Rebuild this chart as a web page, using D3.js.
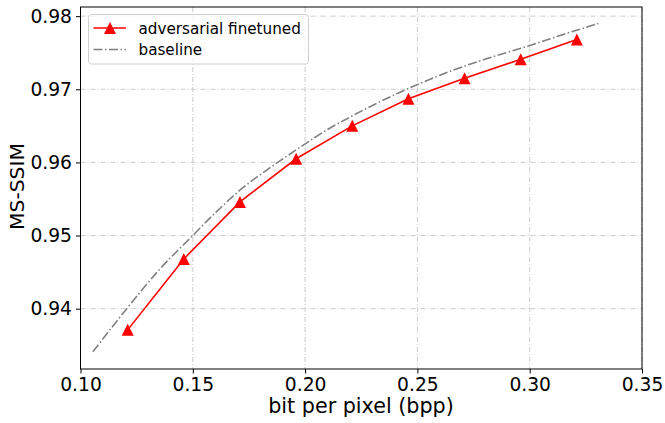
<!DOCTYPE html>
<html><head><meta charset="utf-8">
<script src="https://cdn.jsdelivr.net/npm/d3@7"></script>
<style>html,body{margin:0;padding:0;background:#fff;}svg{display:block;font-family:"DejaVu Sans",sans-serif;}</style>
</head><body>
<svg id="c" width="665" height="423"></svg>
<script>
const advX = [0.121, 0.146, 0.171, 0.196, 0.221, 0.246, 0.271, 0.296, 0.321];
const advY = [0.9371, 0.9468, 0.9546, 0.9605, 0.9650, 0.9687, 0.9715, 0.9741, 0.9768];
const baseX = [0.1055, 0.1206, 0.135, 0.1503, 0.160, 0.1718, 0.185, 0.1955, 0.210, 0.220, 0.2423, 0.2504, 0.265, 0.280, 0.3002, 0.315, 0.3306];
const baseY = [0.9341, 0.9400, 0.9453, 0.9501, 0.9531, 0.9564, 0.9594, 0.9616, 0.9645, 0.9662, 0.9696, 0.9707, 0.9725, 0.9741, 0.9760, 0.9775, 0.9790];
const xTicks = [0.10, 0.15, 0.20, 0.25, 0.30, 0.35];
const yTicks = [0.94, 0.95, 0.96, 0.97, 0.98];
const seriesNames = ["adversarial finetuned", "baseline"];
const xLabel = "bit per pixel (bpp)";
const yLabel = "MS-SSIM";

const svg = d3.select("#c");
const L = 80.5, R = 642, T = 7, B = 369;
const x = d3.scaleLinear().domain([0.10, 0.35]).range([L, R]);
const y = d3.scaleLinear().domain([0.93175, 0.98125]).range([B, T]);

// grid
const grid = svg.append("g").attr("stroke", "#cccccc").attr("stroke-width", 1).attr("stroke-dasharray", "5,2,1,2");
xTicks.forEach(t => grid.append("line").attr("x1", x(t)).attr("x2", x(t)).attr("y1", T).attr("y2", B));
yTicks.forEach(t => grid.append("line").attr("y1", y(t)).attr("y2", y(t)).attr("x1", L).attr("x2", R));

// baseline
const base = baseX.map((v, i) => [v, baseY[i]]);
svg.append("path").datum(base)
  .attr("d", d3.line().x(d => x(d[0])).y(d => y(d[1])).curve(d3.curveMonotoneX))
  .attr("fill", "none").attr("stroke", "#808080").attr("stroke-width", 1.6)
  .attr("stroke-dasharray", "9,2.5,1.5,2.5");

// adversarial
const adv = advX.map((v, i) => [v, advY[i]]);
svg.append("path").datum(adv)
  .attr("d", d3.line().x(d => x(d[0])).y(d => y(d[1])))
  .attr("fill", "none").attr("stroke", "#ff0000").attr("stroke-width", 1.6);
const tri = (cx, cy, s) => `M${cx},${cy - s/2}L${cx + s/2},${cy + s/2}L${cx - s/2},${cy + s/2}Z`;
svg.append("g").selectAll("path").data(adv).join("path")
  .attr("d", d => tri(x(d[0]), y(d[1]), 12)).attr("fill", "#ff0000");

// frame
svg.append("rect").attr("x", L).attr("y", T).attr("width", R - L).attr("height", B - T)
  .attr("fill", "none").attr("stroke", "#000").attr("stroke-width", 1);

// axes
const xa = svg.append("g").attr("transform", `translate(0,${B})`)
  .call(d3.axisBottom(x).tickValues(xTicks).tickFormat(d3.format(".2f")).tickSize(4.5).tickPadding(4));
const ya = svg.append("g").attr("transform", `translate(${L},0)`)
  .call(d3.axisLeft(y).tickValues(yTicks).tickFormat(d3.format(".2f")).tickSize(4.5).tickPadding(4));
[xa, ya].forEach(a => {
  a.select(".domain").remove();
  a.selectAll("text").attr("font-family", "DejaVu Sans").attr("font-size", 18.7).attr("fill", "#000");
  a.selectAll("line").attr("stroke", "#000").attr("stroke-width", 1);
});

svg.append("text").attr("x", 361).attr("y", 413).attr("text-anchor", "middle")
  .attr("font-size", 20.7).attr("fill", "#000").text(xLabel);
svg.append("text").attr("transform", `translate(24,${186.5}) rotate(-90)`).attr("text-anchor", "middle")
  .attr("font-size", 20.3).attr("fill", "#000").text(yLabel);

// legend
const lg = svg.append("g");
lg.append("rect").attr("x", 88.5).attr("y", 14.5).attr("width", 220).attr("height", 49.5).attr("rx", 3)
  .attr("fill", "#fff").attr("fill-opacity", 0.8).attr("stroke", "#d0d0d0").attr("stroke-width", 1);
lg.append("line").attr("x1", 93.5).attr("x2", 126).attr("y1", 28).attr("y2", 28).attr("stroke", "#ff0000").attr("stroke-width", 1.6);
lg.append("path").attr("d", tri(110, 28, 12)).attr("fill", "#ff0000");
lg.append("line").attr("x1", 93.5).attr("x2", 126).attr("y1", 49.5).attr("y2", 49.5).attr("stroke", "#808080").attr("stroke-width", 1.6)
  .attr("stroke-dasharray", "9,2.5,1.5,2.5");
seriesNames.forEach((n, i) => lg.append("text").attr("x", 138.5).attr("y", [33.5, 55][i])
  .attr("font-size", 15.2).attr("fill", "#000").text(n));
</script>
</body></html>
